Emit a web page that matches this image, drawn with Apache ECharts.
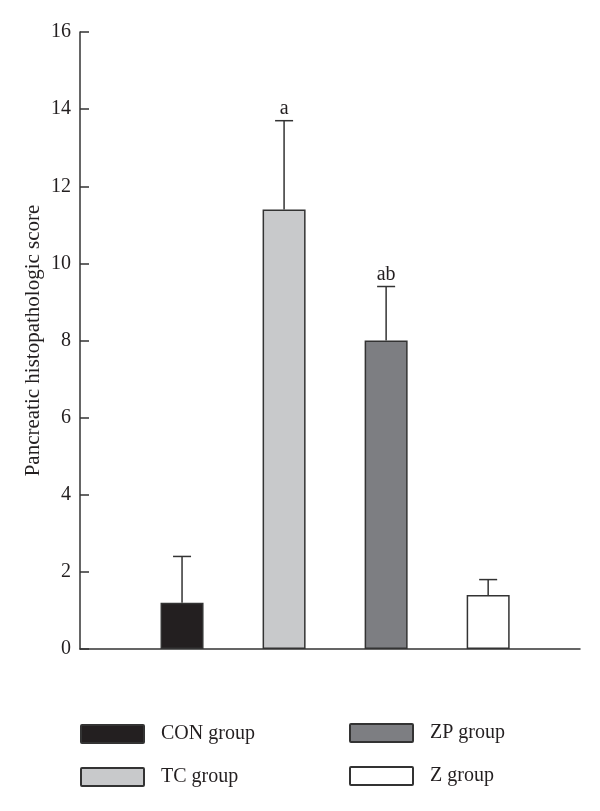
<!DOCTYPE html>
<html>
<head>
<meta charset="utf-8">
<script src="https://cdn.jsdelivr.net/npm/echarts@6/dist/echarts.min.js"></script>
<style>html,body{margin:0;padding:0;background:#fff;}#c{width:600px;height:811px;}</style>
</head>
<body>
<div id="c"></div>
<script>
var categories = ['CON group', 'TC group', 'ZP group', 'Z group'];
var means = [1.2, 11.4, 8.0, 1.4];
var upperErr = [2.4, 13.7, 9.4, 1.8];
var sigLabels = ['', 'a', 'ab', ''];
var yTicks = [0, 2, 4, 6, 8, 10, 12, 14, 16];
var yTitle = 'Pancreatic histopathologic score';

var colors = ['#231f20', '#c8c9cb', '#7d7e82', '#ffffff'];
var FONT = '"Liberation Serif", "DejaVu Serif", serif';
var INK = '#333333';

var chart = echarts.init(document.getElementById('c'));

var barSeries = categories.map(function (name, i) {
  return {
    name: name,
    type: 'bar',
    barWidth: 43,
    barGap: '-100%',
    data: [[i + 1, means[i]]],
    itemStyle: { color: colors[i], borderColor: INK, borderWidth: 1.5 },
    silent: true,
    z: 2
  };
});

var errSeries = {
  type: 'custom',
  silent: true,
  z: 5,
  data: categories.map(function (c, i) { return [i + 1, means[i], upperErr[i], i]; }),
  renderItem: function (params, api) {
    var x = api.value(0);
    var top = api.coord([x, api.value(1)]);
    var hi = api.coord([x, api.value(2)]);
    var idx = api.value(3);
    var half = 9;
    var children = [
      { type: 'line', shape: { x1: top[0], y1: top[1], x2: hi[0], y2: hi[1] }, style: { stroke: INK, lineWidth: 1.5 } },
      { type: 'line', shape: { x1: hi[0] - half, y1: hi[1], x2: hi[0] + half, y2: hi[1] }, style: { stroke: INK, lineWidth: 1.5 } }
    ];
    if (sigLabels[idx]) {
      children.push({
        type: 'text',
        style: { x: hi[0], y: hi[1] - 2, text: sigLabels[idx], textAlign: 'center', textVerticalAlign: 'bottom', font: '20px ' + FONT, fill: '#231f20' }
      });
    }
    return { type: 'group', children: children };
  }
};

var legendCommon = {
  orient: 'vertical',
  icon: 'path://M1,0 L62,0 Q63,0 63,1 L63,17 Q63,18 62,18 L1,18 Q0,18 0,17 L0,1 Q0,0 1,0 Z',
  itemWidth: 63,
  itemHeight: 18,
  itemGap: 23,
  textStyle: { fontFamily: FONT, fontSize: 20, color: '#231f20', padding: [0, 0, 0, 12] },
  selectedMode: false,
  padding: 0
};

chart.setOption({
  animation: false,
  backgroundColor: '#ffffff',
  grid: { left: 80, right: 20, top: 32, bottom: 162 },
  legend: [
    Object.assign({}, legendCommon, { left: 80, top: 724, data: [categories[0], categories[1]] }),
    Object.assign({}, legendCommon, { left: 349, top: 723, data: [categories[2], categories[3]] })
  ],
  xAxis: {
    type: 'value',
    min: 0,
    max: 4.9,
    axisLine: { show: true, onZero: false, lineStyle: { color: INK, width: 1.5 } },
    axisTick: { show: false },
    axisLabel: { show: false },
    splitLine: { show: false }
  },
  yAxis: {
    type: 'value',
    min: yTicks[0],
    max: yTicks[yTicks.length - 1],
    interval: 2,
    name: yTitle,
    nameLocation: 'middle',
    nameGap: 36,
    nameRotate: 90,
    nameMoveOverlap: false,
    nameTextStyle: { fontFamily: FONT, fontSize: 21, color: '#231f20' },
    axisLine: { show: true, lineStyle: { color: INK, width: 1.5 } },
    axisTick: { show: true, inside: true, length: 9, lineStyle: { color: INK, width: 1.5 } },
    axisLabel: { fontFamily: FONT, fontSize: 20, color: '#231f20', margin: 9 },
    splitLine: { show: false }
  },
  series: barSeries.concat([errSeries])
});
</script>
</body>
</html>
